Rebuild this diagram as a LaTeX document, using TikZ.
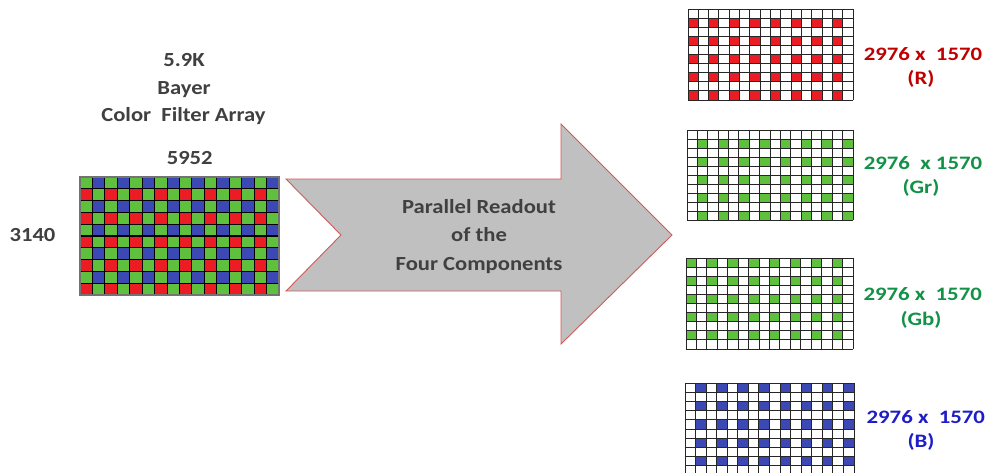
\documentclass[tikz,border=0pt]{standalone}
\usepackage{fontspec}
\setmainfont{Carlito}[FakeStretch=1.13]
\newfontfamily\planefont{Carlito}[FakeStretch=1.2]
\definecolor{cfaR}{HTML}{EC1C24}
\definecolor{cfaG}{HTML}{5EC03C}
\definecolor{cfaB}{HTML}{3C48B4}
\definecolor{inkgray}{HTML}{404040}
\definecolor{labR}{HTML}{C00000}
\definecolor{labG}{HTML}{119247}
\definecolor{labB}{HTML}{1E1EC8}
\definecolor{arrowfill}{HTML}{C0C0C0}
\definecolor{arrowline}{HTML}{D05A5A}

% one colour plane of the sensor: 16 x 10 cells, coloured where row/column parity match
\newcommand{\planegrid}[7]{%
  \pgfmathsetmacro\gw{(#3-#1)/16}%
  \pgfmathsetmacro\gh{(#4-#2)/10}%
  \foreach \r in {0,...,9}{\foreach \c in {0,...,15}{%
    \pgfmathtruncatemacro\hit{and(mod(\r,2)==#5,mod(\c,2)==#6)}%
    \ifnum\hit=1 \fill[#7] ({#1+\c*\gw},{#2+\r*\gh}) rectangle ++(\gw,\gh);\fi
  }}%
  \foreach \c in {0,...,16} \draw[gridline] ({#1+\c*\gw},#2) -- ({#1+\c*\gw},#4);%
  \foreach \r in {0,...,10} \draw[gridline] (#1,{#2+\r*\gh}) -- (#3,{#2+\r*\gh});%
}

\begin{document}
\begin{tikzpicture}[x=1pt,y=-1pt,
  gridline/.style={draw=black!85,line width=1pt},
  bayerline/.style={draw=black,line width=1.1pt},
  title/.style={font=\fontsize{20}{24}\selectfont\bfseries,text=inkgray,inner sep=0pt,anchor=base},
  planelabel/.style={font=\planefont\fontsize{19}{22}\selectfont\bfseries,inner sep=0pt,anchor=base},
  readout/.style={draw=arrowline,fill=arrowfill,line width=0.9pt,line join=miter}]

\fill[white] (0,0) rectangle (989,472);
\useasboundingbox (0,0) rectangle (989,472);

% full Bayer mosaic
\foreach \r in {0,...,9}{\foreach \c in {0,...,15}{%
  \pgfmathtruncatemacro\k{mod(\r,2)*2+mod(\c,2)}%
  \ifcase\k \def\cc{cfaG}\or \def\cc{cfaB}\or \def\cc{cfaR}\or \def\cc{cfaG}\fi
  \fill[\cc] ({80+\c*12.4375},{177+\r*11.8}) rectangle ++(12.4375,11.8);
}}
\foreach \c in {1,...,15} \draw[bayerline] ({80+\c*12.4375},177) -- ({80+\c*12.4375},295);
\foreach \r in {1,...,9} \draw[bayerline] (80,{177+\r*11.8}) -- (279,{177+\r*11.8});
\draw[draw=black!55,line width=1.4pt] (80,177) rectangle (279,295);

% titles
\node[title] (t1) at (184,66) {5.9K};
\node[title] (t2) at (184,94) {Bayer};
\node[title] (t3) at (183.5,121.7) {Color\ \ Filter Array};
\node[title] (t4) at (189.7,164.3) {5952};
\node[title] (t5) at (32.5,241.7) {3140};

% readout arrow
\draw[readout] (286,179) -- (561,179) -- (561,124) -- (672,235) -- (561,344)
  -- (561,291) -- (286,291) -- (341,235) -- cycle;
\node[title] (a1) at (479,213.3) {Parallel Readout};
\node[title] (a2) at (479,241.7) {of the};
\node[title] (a3) at (479,270) {Four Components};

% the four colour planes
\planegrid{688}{9}{853}{100}{1}{0}{cfaR}
\planegrid{687}{130}{853}{220}{1}{1}{cfaG}
\planegrid{686}{258}{853}{349}{0}{0}{cfaG}
\begin{scope}
  \clip (0,0) rectangle (989,472);
  \planegrid{685}{383}{854}{475}{0}{1}{cfaB}
\end{scope}

% plane sizes
\node[planelabel,text=labR] (r1) at (923,60) {2976 x\ \ 1570};
\node[planelabel,text=labR] (r2) at (921,84) {(R)};
\node[planelabel,text=labG] (g1) at (923,169) {2976\ \ x 1570};
\node[planelabel,text=labG] (g2) at (921,193) {(Gr)};
\node[planelabel,text=labG] (h1) at (922.7,300) {2976 x\ \ 1570};
\node[planelabel,text=labG] (h2) at (921,325) {(Gb)};
\node[planelabel,text=labB] (b1) at (925.8,423.3) {2976 x\ \ 1570};
\node[planelabel,text=labB] (b2) at (921,447) {(B)};
\end{tikzpicture}
\end{document}
